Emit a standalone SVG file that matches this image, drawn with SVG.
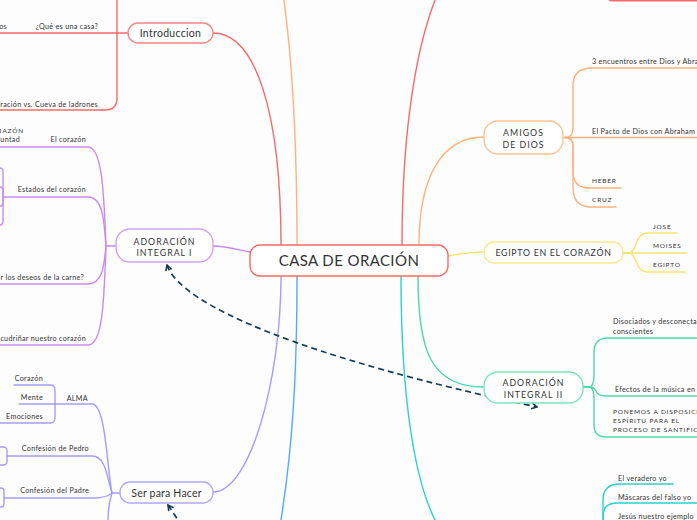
<svg xmlns="http://www.w3.org/2000/svg" width="697" height="520" viewBox="0 0 697 520">
<defs>
<marker id="ah" viewBox="0 0 8 8" refX="6.5" refY="4" markerWidth="8" markerHeight="8" markerUnits="userSpaceOnUse" orient="auto-start-reverse">
<path d="M1,1 L6.5,4 L1,7" fill="none" stroke="#183b52" stroke-width="1.6"/>
</marker>
<style>
.c{fill:none;stroke-width:1.4;stroke-linecap:round}
.red{stroke:#f76a6a}.org{stroke:#ffb27b}.yel{stroke:#f6e475}.grn{stroke:#4dd9a5}.cyn{stroke:#29d1d1}.blu{stroke:#55a8ff}.lav{stroke:#a59cff}.pur{stroke:#c98af0}
.dash{fill:none;stroke:#183b52;stroke-width:1.7;stroke-dasharray:6 4}
.box{fill:#ffffff;stroke-width:1.4}
.nt{font-family:Lato,"Noto Sans",sans-serif;fill:#333;text-anchor:middle}
.st{font-family:Lato,"Noto Sans",sans-serif;fill:#333;font-size:7.2px;letter-spacing:0.3px}
.cap{letter-spacing:0.8px;font-size:6.5px}
.e{text-anchor:end}
</style>
</defs>
<rect width="697" height="520" fill="#fdfdfd"/>
<g id="connectors">
<path class="c red" d="M281,245 C281,110 255,33 213,33"/>
<path class="c red" d="M128,33 H0"/>
<path class="c red" d="M117,0 V98 Q117,110 105,110 H0"/>
<path class="c red" d="M402,245 C402,150 412,60 435,0"/>
<path class="c org" d="M297,245 C297,150 292,60 284,0"/>
<path class="c org" d="M419,245 C419,180 440,137 484,137"/>
<path class="c org" d="M563,137.5 H697"/>
<path class="c org" d="M565,137.5 Q573,137.5 573,128 V86 Q573,68 592,68 H697"/>
<path class="c org" d="M565,137.5 Q573,137.5 573,146 V172 Q573,188 590,188 H621"/>
<path class="c org" d="M565,137.5 Q573,137.5 573,146 V188 Q573,207 592,207 H616"/>
<path class="c yel" d="M448,256 C465,253 470,252 484,252"/>
<path class="c yel" d="M623,253 H687"/>
<path class="c yel" d="M623,253 H629 C637,253 634,233 648,233 H677"/>
<path class="c yel" d="M623,253 H629 C637,253 634,272 648,272 H685"/>
<path class="c grn" d="M418,276 C418,350 430,387 484,387"/>
<path class="c grn" d="M583,387 H589 Q594,387 594,375 V352 Q594,338 608,338 H697"/>
<path class="c grn" d="M583,387 H589 Q594,387 596,391 Q598,396 606,396 H697"/>
<path class="c grn" d="M583,387 H589 Q594,387 594,400 V425 Q594,437 606,437 H697"/>
<path class="c cyn" d="M401,276 C401,400 415,480 435,520"/>
<path class="c cyn" d="M603,540 V500 Q603,484 620,484 H673"/>
<path class="c cyn" d="M603,540 V516 Q603,503 617,503 H697"/>
<path class="c cyn" d="M603,540 Q604,522 620,522 H697"/>
<path class="c blu" d="M297,276 C297,380 292,450 281,520"/>
<path class="c lav" d="M281,276 C281,380 250,492 213,492"/>
<path class="c lav" d="M120,493 H112 C107,470 106,404 92,404 H55"/>
<path class="c lav" d="M14,385 H50 Q55,385 55,390 V418 Q55,423 50,423 H0"/>
<path class="c lav" d="M19,404 H55"/>
<path class="c lav" d="M112,493 C107,478 106,456 92,456 H7"/>
<path class="c lav" d="M0,447 H3 Q7,447 7,451 V461 Q7,465 3,465 H0"/>
<path class="c lav" d="M112,493 Q106,498 94,498 H4"/>
<path class="c lav" d="M0,488 H1 Q4,488 4,491 V504 Q4,507 1,507 H0"/>
<path class="c lav" d="M112,493 C108,505 108,515 108,530"/>
<path class="c pur" d="M250,252 C235,249 225,246 213,246"/>
<path class="c pur" d="M116,246 H106 C104,200 103,147 88,147 H0"/>
<path class="c pur" d="M106,246 C104,220 103,197 88,197 H3"/>
<path class="c pur" d="M106,246 C104,265 103,284 88,284 H0"/>
<path class="c pur" d="M106,246 C104,300 103,345 88,345 H0"/>
<path class="c pur" d="M0,168 Q3,168 3,172 V221 Q3,225 0,225"/>
<path class="c pur" d="M0,187 Q3,187 3,190 V203 Q3,206 0,206"/>
<path class="dash" d="M167,265 C180,305 305,358 537,407" marker-start="url(#ah)" marker-end="url(#ah)"/>
<path class="dash" d="M168,505 Q173,512 183,528" marker-start="url(#ah)"/>
</g>
<g id="node-top">
<rect x="605" y="-30" width="120" height="30.5" rx="8" fill="#fff" stroke="#f76a6a" stroke-width="2"/>
</g>
<g id="node-central">
<rect class="box" x="250" y="245" width="198" height="31" rx="10" stroke="#f76a6a" stroke-width="2.2"/>
<text class="nt" x="349" y="266" font-size="15" letter-spacing="0.4">CASA DE ORACIÓN</text>
</g>
<g id="node-introduccion">
<rect class="box" x="128" y="23" width="85" height="20" rx="10" stroke="#f98585"/>
<text class="nt" x="170.5" y="37" font-size="10.5" letter-spacing="0.3">Introduccion</text>
</g>
<g id="node-adoracion1">
<rect class="box" x="116" y="229" width="97" height="33" rx="14" stroke="#d3a2f5"/>
<text class="nt" x="164.5" y="244.5" font-size="8.8" letter-spacing="1">ADORACIÓN</text>
<text class="nt" x="164.5" y="256" font-size="8.8" letter-spacing="1">INTEGRAL I</text>
</g>
<g id="node-ser">
<rect class="box" x="120" y="482" width="93" height="21" rx="10" stroke="#b0a8ff"/>
<text class="nt" x="166.5" y="496.5" font-size="10.5" letter-spacing="0.2">Ser para Hacer</text>
</g>
<g id="node-amigos">
<rect class="box" x="484" y="121" width="79" height="33" rx="14" stroke="#ffc291"/>
<text class="nt" x="523.5" y="135.5" font-size="8.8" letter-spacing="1">AMIGOS</text>
<text class="nt" x="523.5" y="147.5" font-size="8.8" letter-spacing="1">DE DIOS</text>
</g>
<g id="node-egipto">
<rect class="box" x="484" y="242" width="139" height="21" rx="10" stroke="#f6e98e"/>
<text class="nt" x="553.5" y="256" font-size="8.8" letter-spacing="0.7">EGIPTO EN EL CORAZÓN</text>
</g>
<g id="node-adoracion2">
<rect class="box" x="484" y="372" width="99" height="31" rx="14" stroke="#7ee3bd"/>
<text class="nt" x="533.5" y="386" font-size="8.8" letter-spacing="1">ADORACIÓN</text>
<text class="nt" x="533.5" y="397.5" font-size="8.8" letter-spacing="1">INTEGRAL II</text>
</g>
<g id="labels-left">
<text class="st e" x="7" y="28.5">os</text>
<text class="st e" x="98" y="28.5">¿Qué es una casa?</text>
<text class="st e" x="98" y="106.5">ración vs. Cueva de ladrones</text>
<text class="st e cap" x="24" y="132.5">RAZÓN</text>
<text class="st e" x="20" y="141.5">luntad</text>
<text class="st e" x="86" y="141.5">El corazón</text>
<text class="st e" x="86" y="191.5">Estados del corazón</text>
<text class="st e" x="84" y="279.5">r los deseos de la carne?</text>
<text class="st e" x="86" y="340.5">cudriñar nuestro corazón</text>
<text class="st e" x="43" y="380.5">Corazón</text>
<text class="st e" x="43" y="399.5">Mente</text>
<text class="st e" x="43" y="418.5">Emociones</text>
<text class="st e" x="88" y="400.5">ALMA</text>
<text class="st e" x="89" y="450.5">Confesión de Pedro</text>
<text class="st e" x="89" y="492.5">Confesión del Padre</text>
</g>
<g id="labels-right">
<text class="st" x="592" y="63.5">3 encuentros entre Dios y Abrah</text>
<text class="st" x="592" y="133.5">El Pacto de Dios con Abraham</text>
<text class="st cap" x="592" y="182.5">HEBER</text>
<text class="st cap" x="592" y="201.5">CRUZ</text>
<text class="st cap" x="653" y="228.5">JOSE</text>
<text class="st cap" x="653" y="247.5">MOISES</text>
<text class="st cap" x="653" y="266.5">EGIPTO</text>
<text class="st" x="613" y="323.5">Disociados y desconecta</text>
<text class="st" x="613" y="333.5">conscientes</text>
<text class="st" x="615" y="391.5">Efectos de la música en</text>
<text class="st cap" x="613" y="413.5">PONEMOS A DISPOSICI</text>
<text class="st cap" x="613" y="422.5">ESPÍRITU PARA EL</text>
<text class="st cap" x="613" y="431.5">PROCESO DE SANTIFICA</text>
<text class="st" x="618" y="480.5">El veradero yo</text>
<text class="st" x="618" y="499.5">Máscaras del falso yo</text>
<text class="st" x="618" y="518.5">Jesús nuestro ejemplo</text>
</g>
</svg>
